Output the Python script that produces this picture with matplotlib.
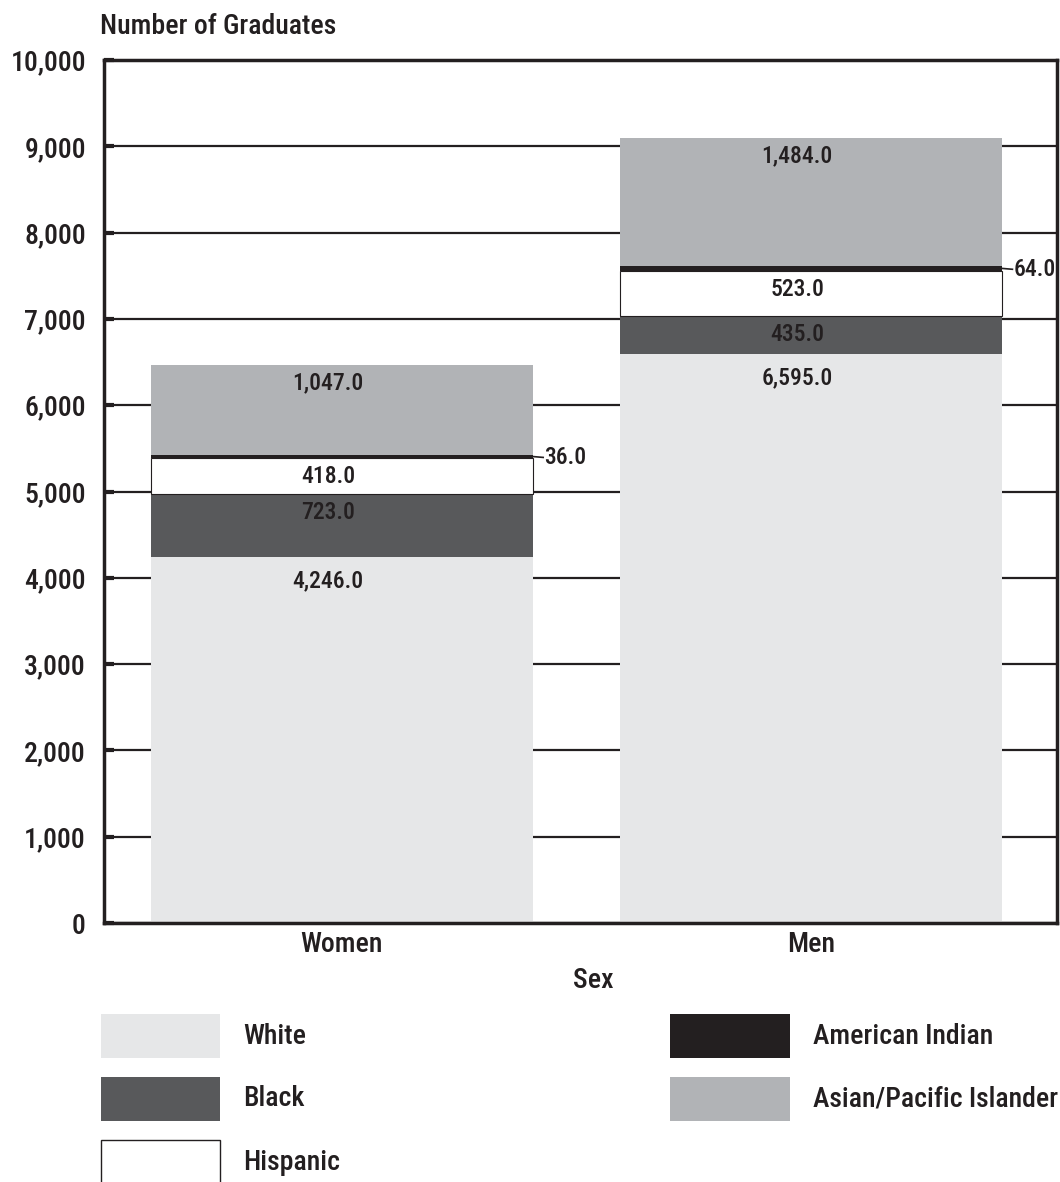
import matplotlib
matplotlib.use("Agg")
import matplotlib.pyplot as plt
from matplotlib import font_manager
from matplotlib.patches import Rectangle

avail = {f.name for f in font_manager.fontManager.ttflist}
fams = [f for f in ["Roboto Condensed", "Liberation Sans Narrow", "Roboto", "DejaVu Sans"] if f in avail]
plt.rcParams["font.family"] = fams
plt.rcParams["font.weight"] = "medium"

sexes = ["Women", "Men"]
groups = ["White", "Black", "Hispanic", "American Indian", "Asian/Pacific Islander"]
white = [4246.0, 6595.0]
black = [723.0, 435.0]
hispanic = [418.0, 523.0]
american_indian = [36.0, 64.0]
asian = [1047.0, 1484.0]
yticks = [0, 1000, 2000, 3000, 4000, 5000, 6000, 7000, 8000, 9000, 10000]

series = [white, black, hispanic, american_indian, asian]
colors = ["#e6e7e8", "#58595b", "#ffffff", "#231f20", "#b1b3b6"]
edges = [None, None, "#231f20", None, None]
dark = "#231f20"
big = 20
small = 17

W, H = 1060, 1182
fig = plt.figure(figsize=(W / 100, H / 100), dpi=100)
ax = fig.add_axes([104 / W, 1 - 923 / H, (1057 - 104) / W, (923 - 60) / H])

x = [0, 1]
bw = 0.814
bottoms = [0.0, 0.0]
for vals, col, ec, name in zip(series, colors, edges, groups):
    ax.bar(x, vals, bw, bottom=bottoms, color=col, zorder=3,
           edgecolor=ec if ec else col, linewidth=0.8 if ec else 0)
    for i in range(2):
        top = bottoms[i] + vals[i]
        label = f"{vals[i]:,.1f}"
        if name == "American Indian":
            mid = bottoms[i] + vals[i] / 2
            xe = x[i] + bw / 2
            ax.plot([xe, xe + 0.022], [mid, mid - 10], color=dark, lw=1.2,
                    zorder=4, clip_on=False)
            ax.annotate(label, (xe + 0.024, mid), xytext=(0, -1),
                        textcoords="offset points", ha="left", va="center",
                        fontsize=small, color=dark, zorder=5)
        else:
            off = -9 if name == "White" else -5
            ax.annotate(label, (x[i], top), xytext=(-10, off),
                        textcoords="offset points", ha="center", va="top",
                        fontsize=small, color=dark, zorder=5)
    bottoms = [b + v for b, v in zip(bottoms, vals)]

ax.set_xlim(-0.507, 1.524)
ax.set_ylim(0, 10000)
ax.set_yticks(yticks)
ax.set_yticklabels([f"{t:,}" for t in yticks], fontsize=big, color=dark)
ax.yaxis.grid(True, color=dark, lw=1.6, zorder=1)
ax.set_axisbelow(True)
ax.tick_params(axis="y", direction="in", length=7, width=3, color=dark, pad=13)
ax.set_xticks(x)
ax.set_xticklabels(sexes, fontsize=big, color=dark)
ax.tick_params(axis="x", length=0, pad=6)
for s in ax.spines.values():
    s.set_color(dark)
    s.set_linewidth(2.5)
    s.set_zorder(6)

fig.text(100 / W, 1 - 27 / H, "Number of Graduates", fontsize=big, color=dark,
         ha="left", va="center")
fig.text(593 / W, 1 - 980 / H, "Sex", fontsize=big, color=dark,
         ha="center", va="center")

# legend, two columns of swatches with labels
slots = [(101, 1014), (101, 1077), (101, 1140), (670, 1014), (670, 1077)]
for (px, py), name, col, ec in zip(slots, groups, colors, edges):
    sw = 119 if px < 300 else 120
    rect = Rectangle((px / W, 1 - (py + 44) / H), sw / W, 44 / H,
                     transform=fig.transFigure, facecolor=col,
                     edgecolor=ec if ec else col, linewidth=1.0 if ec else 0)
    fig.patches.append(rect)
    fig.text((px + sw + 23) / W, 1 - (py + 22) / H, name, fontsize=big,
             color=dark, ha="left", va="center")

fig.savefig("out.png", dpi=100)
